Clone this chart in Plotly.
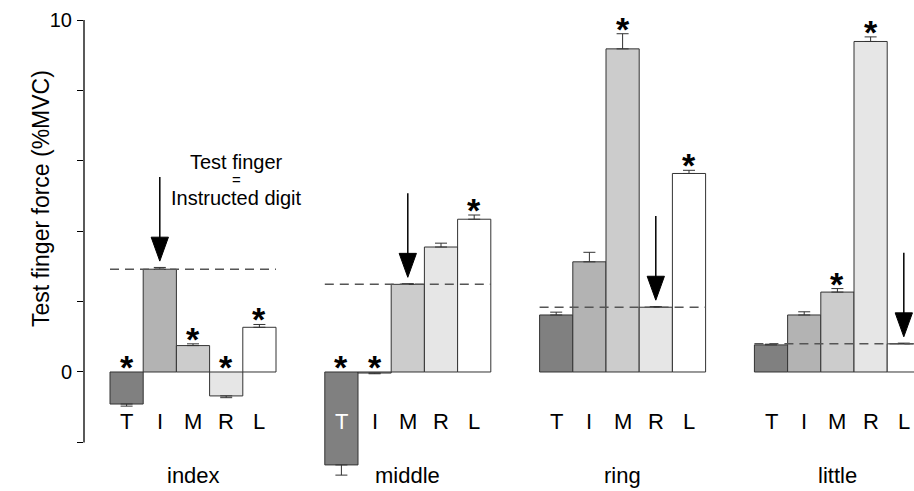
import plotly.graph_objects as go

# ---------------- data ----------------
groups = ["index", "middle", "ring", "little"]
digits = ["T", "I", "M", "R", "L"]

index_vals = [-0.91, 2.92, 0.75, -0.68, 1.27]
index_errs = [0.06, 0.05, 0.05, 0.05, 0.08]
middle_vals = [-2.64, -0.03, 2.49, 3.55, 4.34]
middle_errs = [0.29, 0.02, 0.02, 0.11, 0.12]
ring_vals = [1.62, 3.13, 9.18, 1.84, 5.64]
ring_errs = [0.08, 0.27, 0.43, 0.02, 0.09]
little_vals = [0.77, 1.62, 2.27, 9.39, 0.80]
little_errs = [0.02, 0.09, 0.10, 0.13, 0.02]

index_sig = [1, 0, 1, 1, 1]
middle_sig = [1, 1, 0, 0, 1]
ring_sig = [0, 0, 1, 0, 1]
little_sig = [0, 0, 1, 1, 0]

instructed = ["I", "M", "R", "L"]
bar_colors = ["#808080", "#b3b3b3", "#cccccc", "#e6e6e6", "#ffffff"]
y_tick_vals = [-2, 0, 2, 4, 6, 8, 10]
y_tick_text = ["", "0", "", "", "", "", "10"]
y_title = "Test finger force (%MVC)"
note_lines = ["Test finger", "=", "Instructed digit"]

vals = [index_vals, middle_vals, ring_vals, little_vals]
errs = [index_errs, middle_errs, ring_errs, little_errs]
sigs = [index_sig, middle_sig, ring_sig, little_sig]

# ---------------- layout helpers ----------------
G = 6.47          # group spacing in bar widths
FONT = "Liberation Sans, Arial, Helvetica, sans-serif"
OUT = "#333333"

def xc(g, i):
    return g * G + i + 0.5

fig = go.Figure()

for i, d in enumerate(digits):
    xs, ys, ep, em = [], [], [], []
    for g in range(len(groups)):
        v = vals[g][i]
        e = errs[g][i]
        xs.append(xc(g, i))
        ys.append(v)
        ep.append(e if v >= 0 else 0)
        em.append(e if v < 0 else 0)
    fig.add_trace(go.Bar(
        x=xs, y=ys, width=1,
        marker=dict(color=bar_colors[i], line=dict(color=OUT, width=1)),
        error_y=dict(type="data", symmetric=False, array=ep, arrayminus=em,
                     color=OUT, thickness=1, width=6),
        name=d, showlegend=False, hoverinfo="x+y",
    ))

shapes = []
annotations = []

# y axis line (only -2..10)
shapes.append(dict(type="line", xref="paper", yref="y", x0=0, x1=0, y0=-2, y1=10,
                   line=dict(color="black", width=1.3)))

head_len = 0.68
head_hw = 0.26
arrow_len = 2.39
for g, grp in enumerate(groups):
    k = digits.index(instructed[g])
    level = vals[g][k]
    # dashed reference line
    shapes.append(dict(type="line", xref="x", yref="y", x0=g * G, x1=g * G + 5,
                       y0=level, y1=level,
                       line=dict(color="#555555", width=1.5, dash="9px,6px")))
    # arrow
    top = max(level, 0) + errs[g][k] + 0.18
    x0 = xc(g, k)
    shapes.append(dict(type="line", xref="x", yref="y", x0=x0, x1=x0,
                       y0=top + head_len - 0.05, y1=top + arrow_len,
                       line=dict(color="black", width=1.5)))
    shapes.append(dict(type="path", xref="x", yref="y",
                       path=f"M {x0 - head_hw},{top + head_len} L {x0 + head_hw},{top + head_len} L {x0},{top} Z",
                       fillcolor="black", line=dict(color="black", width=1)))
    # group label
    annotations.append(dict(x=g * G + 2.5, y=-2.95, xref="x", yref="y", text=grp,
                            showarrow=False, font=dict(family=FONT, size=22, color="black")))
    for i, d in enumerate(digits):
        v = vals[g][i]
        # digit labels
        col = "white" if (v < -1.6) else "black"
        annotations.append(dict(x=xc(g, i), y=-1.42, xref="x", yref="y", text=d,
                                showarrow=False, font=dict(family=FONT, size=22, color=col)))
        if sigs[g][i]:
            base = max(v + errs[g][i], 0) if v >= 0 else 0
            annotations.append(dict(x=xc(g, i), y=base, xref="x", yref="y", text="<b>*</b>",
                                    showarrow=False, yanchor="middle", yshift=5,
                                    font=dict(family=FONT, size=34, color="black")))

# note text
for t, yy, fs in zip(note_lines, [5.97, 5.48, 4.94], [20, 15, 20]):
    annotations.append(dict(x=3.8, y=yy, xref="x", yref="y", text=t, showarrow=False,
                            font=dict(family=FONT, size=fs, color="black")))

# y title
annotations.append(dict(x=-0.070, y=4.94, xref="paper", yref="y", text=y_title,
                        textangle=-90, showarrow=False,
                        font=dict(family=FONT, size=23, color="black")))

fig.update_layout(
    width=914, height=491,
    margin=dict(l=84, r=0, t=20, b=10),
    paper_bgcolor="white", plot_bgcolor="white",
    barmode="overlay",
    showlegend=False,
    shapes=shapes,
    annotations=annotations,
    font=dict(family=FONT, color="black"),
    xaxis=dict(range=[-0.783, 24.217], visible=False, fixedrange=True),
    yaxis=dict(range=[-3.097, 10], tickvals=y_tick_vals, ticktext=y_tick_text,
               ticks="outside", ticklen=6, tickwidth=1.3, tickcolor="black",
               showgrid=False, zeroline=False, showline=False,
               tickfont=dict(family=FONT, size=20, color="black"),
               ticklabelstandoff=1, fixedrange=True),
)

fig.write_html("out.html")
